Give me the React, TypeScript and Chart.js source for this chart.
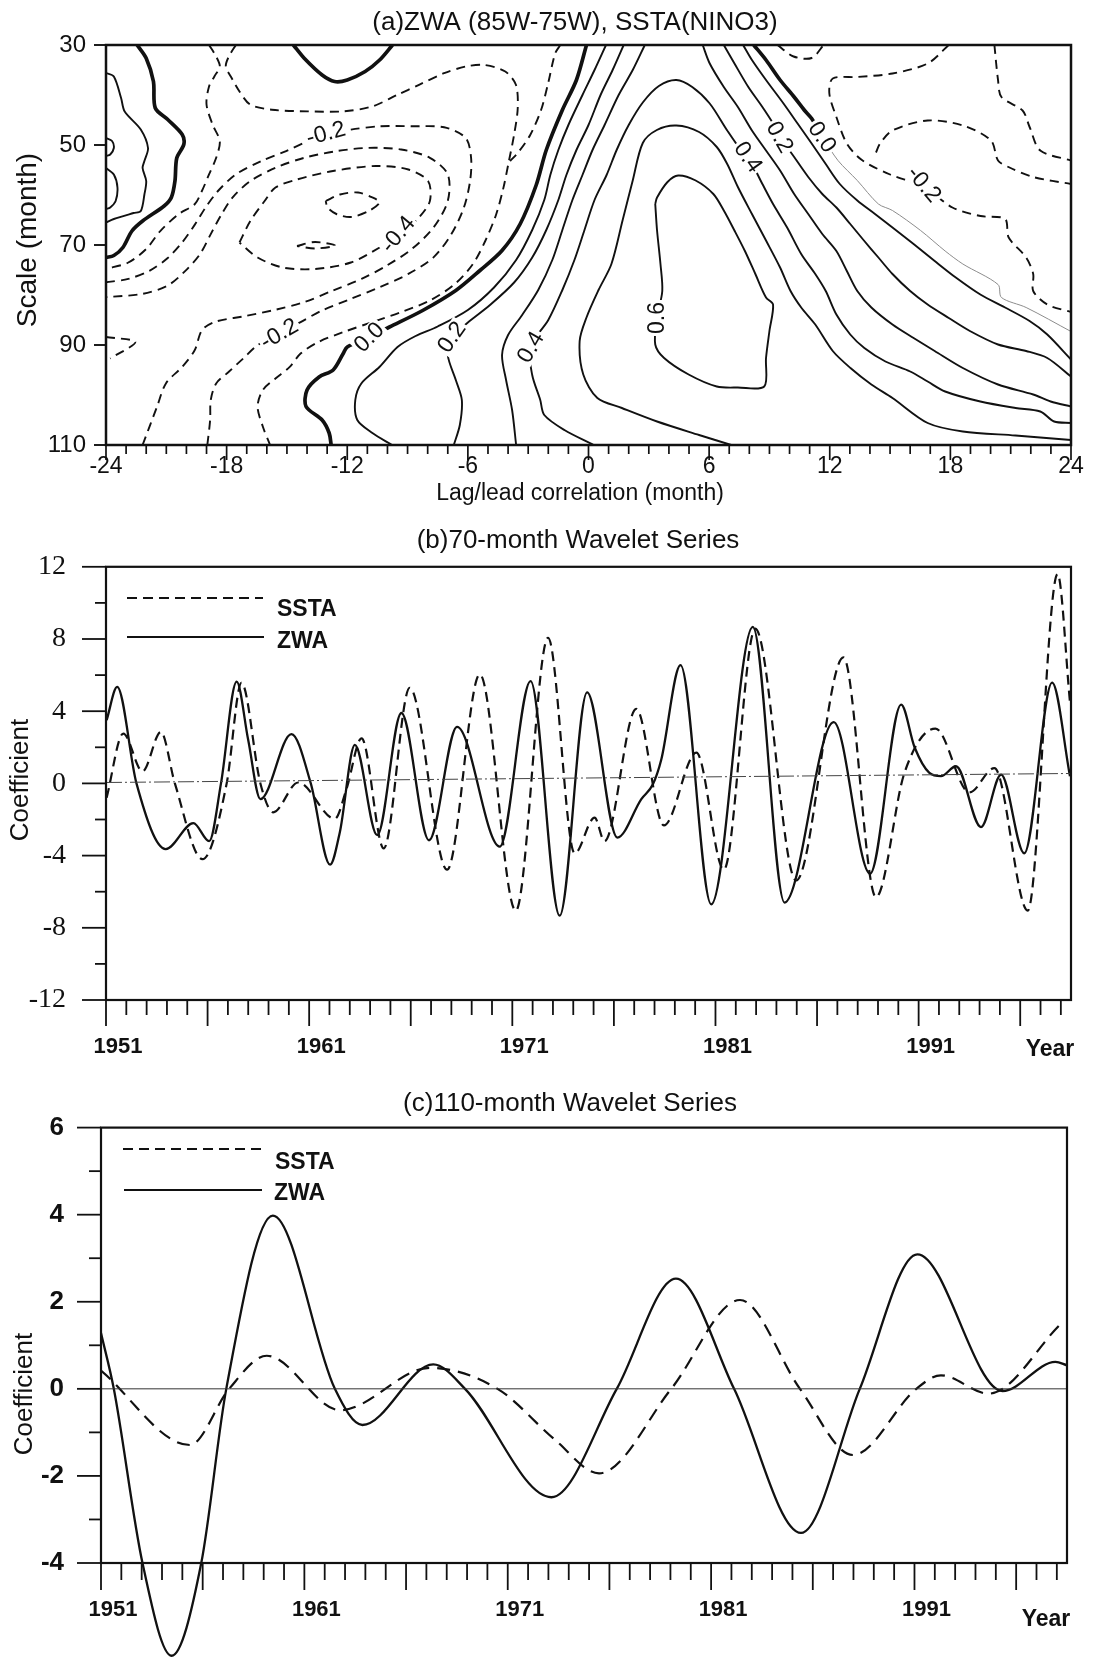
import React, { useEffect, useRef } from "react";
import { Chart, registerables } from "chart.js";

Chart.register(...registerables);

const SANS = "'Liberation Sans', Arial, Helvetica, sans-serif";
const SERIF = "'Liberation Serif', 'Times New Roman', Times, serif";
const INK = "#111111";
const W = 1093;

type Pt = [number, number];

// ================= Panel (a): lag/lead correlation contours =================
const lagTickValues = [-24, -18, -12, -6, 0, 6, 12, 18, 24];
const scaleTickValues = [30, 50, 70, 90, 110];

// 0.0 contours
const zeroUpperLeft: Pt[] = [[-22.45, 30], [-22.0, 32.65], [-21.64, 37.3], [-21.55, 42.6], [-20.93, 44.9], [-20.21, 47.9], [-20.13, 49.9], [-20.48, 52.6], [-20.57, 57.2], [-20.75, 60.5], [-21.11, 62.2], [-22.18, 65.2], [-22.71, 67.2], [-23.16, 70.5], [-23.61, 72.1], [-24, 72.5]];
const zeroTopPocket: Pt[] = [[-14.68, 30], [-14.14, 32.65], [-13.25, 36], [-12.63, 37.3], [-12.0, 37], [-11.11, 35.3], [-10.39, 33], [-9.75, 30]];
const zeroRidgeLeft: Pt[] = [[-0.1, 30], [-0.6, 37], [-1.3, 43], [-2.1, 51], [-2.6, 58], [-3.4, 65.8], [-4.3, 71.1], [-5.4, 75.1], [-6.6, 79.1], [-8.25, 83.1], [-9.9, 86.4], [-11.0, 88.6], [-12.0, 90.4], [-12.2, 91.7], [-12.7, 95], [-13.4, 96.4], [-14.0, 99], [-14.05, 102.3], [-13.25, 105], [-12.9, 107.6], [-12.8, 110]];
const zeroRidgeRight: Pt[] = [[8.22, 30], [8.83, 33], [9.53, 37], [10.23, 40.4], [10.75, 43.1], [11.1, 44.7], [11.63, 48.4]];
const zeroRidgeRightFaint: Pt[] = [[11.63, 48.4], [12.41, 53.1], [13.37, 57.1], [14.42, 61.8], [15.12, 63.1], [16.52, 67.1], [17.74, 71.2], [18.62, 73.8], [20.37, 77.9], [20.54, 80.5], [21.77, 82.5], [24, 87.3]];

// positive contours
const posCornerA: Pt[] = [[-24, 35.6], [-23.61, 36.3], [-23.25, 40.6], [-23.07, 43.3], [-22.27, 46.9], [-21.91, 50.6], [-22.09, 53.2], [-22.18, 54.6], [-22.0, 57.2], [-22.09, 59.9], [-22.27, 63.2], [-22.63, 63.6], [-23.61, 64.8], [-24, 65.5]];
const posCornerB: Pt[] = [[-24, 48.6], [-23.7, 49.2], [-23.61, 50.6], [-23.79, 51.9], [-24, 52.2]];
const posCornerC: Pt[] = [[-24, 54.6], [-23.61, 55.9], [-23.43, 58.5], [-23.52, 61.2], [-23.79, 62.5], [-24, 62.8]];
const pos01Left: Pt[] = [[0.87, 30], [0.3, 35], [-0.3, 40], [-1.0, 46], [-1.5, 51], [-1.9, 56], [-2.2, 61], [-2.8, 67], [-3.6, 73], [-4.7, 78.5], [-6.0, 83], [-7.5, 86.3], [-8.6, 88.2], [-9.5, 90.4], [-10.4, 94.4], [-11.3, 97.7], [-11.6, 101], [-11.5, 105], [-10.75, 107.6], [-9.77, 110]];
const pos02Left: Pt[] = [[1.75, 30], [1.2, 35], [0.6, 40], [0.0, 46], [-0.6, 51], [-1.1, 56], [-1.5, 61], [-2.1, 67], [-2.8, 72.5], [-3.7, 77.5], [-4.9, 82], [-6.0, 85.5], [-6.8, 88.4], [-7.0, 92], [-6.6, 97], [-6.3, 101], [-6.4, 106], [-6.7, 110]];
const pos03Left: Pt[] = [[2.8, 30], [2.2, 35], [1.5, 40], [0.8, 46], [0.2, 51], [-0.3, 56], [-0.8, 61], [-1.3, 67], [-1.8, 73], [-2.5, 79], [-3.3, 84], [-4.0, 88], [-4.3, 92], [-4.1, 97], [-3.8, 103], [-3.6, 110]];
const pos04Arch: Pt[] = [[0.26, 110], [-1.2, 107], [-2.2, 104], [-2.4, 101], [-2.8, 96], [-2.9, 90.4], [-2.0, 85], [-1.3, 79], [-0.7, 73], [-0.2, 67], [0.3, 61], [0.9, 56], [1.4, 51], [2.0, 46], [2.7, 41.5], [3.5, 38.2], [4.37, 37], [5.16, 38.4], [6.03, 41.7], [6.9, 47.1], [7.6, 51.1], [7.95, 52.4], [8.65, 57.8], [9.18, 61.8], [9.88, 66.5], [10.58, 71.8], [11.28, 75.8], [11.8, 79.2], [12.33, 83.9], [13.02, 87.9], [13.72, 90.6], [14.77, 93.3], [16.0, 95.3], [16.87, 97.3], [17.74, 99.3], [19.49, 101.3], [21.24, 102.6], [22.47, 103.3], [23.16, 105.3], [24, 105.6]];
const pos05Arch: Pt[] = [[7.1, 110], [5.5, 108], [3.41, 105.3], [1.66, 102.6], [0.44, 100.6], [-0.26, 95.9], [-0.44, 89.2], [-0.1, 84.5], [0.5, 79], [1.14, 73.8], [1.7, 65], [2.2, 57.1], [2.7, 49.6], [3.4, 47], [4.37, 46.1], [5.5, 47.4], [6.38, 50.4], [6.9, 53.8], [7.43, 58.4], [8.13, 63.8], [8.83, 69.1], [9.53, 74.5], [10.05, 79.2], [10.58, 82.5], [11.28, 85.9], [12.15, 91.2], [13.03, 94.6], [14.07, 97.9], [15.12, 100.6], [16.87, 105.6], [18.62, 107.3], [21.24, 108.1], [24, 109]];
const pos06Loop: Pt[] = [[3.32, 61.8], [3.41, 60.5], [3.93, 57.4], [4.46, 56.1], [5.33, 57.1], [6.21, 59.8], [6.73, 63.1], [7.26, 67.1], [7.78, 71.2], [8.3, 75.8], [8.83, 80.5], [9.18, 81.9], [9.0, 87.2], [8.83, 92.6], [8.74, 98.3], [7.43, 98.5], [6.38, 98.3], [4.98, 95.9], [3.76, 92.6], [3.32, 89.9], [3.41, 84.6], [3.67, 79.2], [3.58, 73.8], [3.41, 67.1], [3.32, 61.8]];
const pos03Right: Pt[] = [[5.68, 30], [6.03, 33.7], [6.73, 38.4], [7.43, 42.4], [8.13, 47.1], [8.83, 51.1], [9.53, 55.1], [10.23, 59.8], [10.93, 63.8], [11.63, 67.8], [12.33, 71.2], [12.85, 75.2], [13.37, 79.2], [14.07, 82.5], [15.12, 85.9], [16.17, 88.6], [17.22, 91.2], [18.62, 94.6], [20.37, 97.9], [22.12, 99.9], [22.99, 101.3], [24, 102.3]];
const pos02Right: Pt[] = [[6.73, 30], [7.26, 33.7], [7.95, 38.4], [8.65, 42.4], [9.18, 45.7], [9.53, 48.4], [10.23, 52.4], [10.93, 56.4], [11.63, 59.8], [12.33, 62.5], [13.02, 65.8], [13.72, 69.2], [14.42, 72.5], [15.12, 75.8], [16.0, 79.2], [16.87, 81.9], [17.92, 84.6], [18.97, 87.2], [20.37, 89.9], [21.77, 91.2], [22.82, 92.6], [24, 96.3]];
const pos01Right: Pt[] = [[7.69, 30], [8.13, 33], [8.83, 37], [9.7, 41.7], [10.4, 45.7], [11.1, 49.7], [11.8, 53.8], [12.5, 57.8], [13.37, 61.1], [14.25, 63.8], [15.12, 66.5], [16.17, 69.8], [17.22, 73.2], [18.27, 76.5], [19.49, 79.9], [20.72, 82.5], [21.94, 85.2], [22.82, 87.9], [24, 92.9]];

// negative contours
const negL0: Pt[] = [[-18.875, 30], [-18.52, 32.3], [-18.34, 34.3], [-18.61, 36.3], [-18.875, 38.3], [-19.0, 41.9], [-18.7, 45.9], [-18.34, 49.24], [-18.52, 52.56], [-18.875, 55.88], [-19.23, 59.2], [-19.59, 61.85], [-20.39, 63.84], [-21.29, 67.16], [-22.0, 70.8], [-22.89, 73.5], [-24, 74.8]];
const negL1: Pt[] = [[-17.54, 30], [-17.89, 32.3], [-18.04, 34.3], [-17.75, 36.6], [-17.36, 39.3], [-16.82, 41.94], [-15.75, 42.94], [-13.96, 43.27], [-12.18, 43.27], [-10.75, 42.28], [-9.5, 39.95], [-8.43, 37.96], [-7.18, 35.64], [-6.11, 34.31], [-5.21, 33.98], [-4.14, 35.31], [-3.61, 37.96], [-3.52, 42.61], [-3.7, 47.92], [-3.96, 53.23], [-4.23, 58.53], [-4.59, 63.84], [-5.13, 69.15], [-5.75, 73.8], [-6.64, 77.78], [-7.89, 81.1], [-9.32, 83.42], [-10.75, 85.41], [-12.18, 87.4], [-13.43, 89.39], [-14.32, 91.71], [-14.86, 94.37], [-15.57, 96.69], [-16.2, 99.01], [-16.46, 102.33], [-16.2, 106.31], [-15.84, 110]];
const negL1b: Pt[] = [[-1.4, 30], [-1.66, 31.7], [-2.01, 37.7], [-2.36, 43], [-2.9, 48], [-3.5, 51.5], [-3.9, 53.2]];
const negL2: Pt[] = [[-24, 77.45], [-22.89, 76.78], [-21.82, 75.12], [-20.93, 72.6], [-20.21, 69.48], [-19.59, 65.97], [-19.05, 62.52], [-18.43, 59.2], [-17.54, 55.88], [-16.29, 53.23], [-15.04, 51.23], [-13.96, 49.24], [-13.07, 47.92], [-11.82, 46.92], [-10.39, 46.26], [-8.79, 46.26], [-7.18, 46.46], [-6.11, 48.58], [-5.84, 52.56], [-5.89, 57.21], [-6.2, 62.52], [-6.82, 67.82], [-7.71, 72.47], [-8.96, 75.79], [-10.39, 78.44], [-11.82, 80.76], [-13.25, 83.09], [-14.32, 85.41], [-15.39, 87.73], [-16.46, 90.05], [-17.18, 92.71], [-17.89, 95.36], [-18.52, 97.68], [-18.79, 101.0], [-18.82, 104.98], [-18.96, 110]];
const negE: Pt[] = [[-22.18, 110], [-21.46, 102.33], [-21.02, 97.68], [-20.21, 94.37], [-19.59, 91.05], [-19.23, 87.07], [-18.61, 85.41], [-17.18, 84.28], [-15.57, 82.95], [-14.14, 81.43], [-12.71, 79.1], [-11.29, 76.78], [-10.04, 74.13], [-8.79, 70.81], [-7.71, 66.5], [-7.0, 61.19], [-7.0, 55.88], [-7.89, 52.56], [-9.32, 50.9], [-10.93, 50.57], [-12.54, 51.23], [-14.14, 52.56], [-15.57, 54.55], [-16.82, 57.21], [-17.71, 60.52], [-18.25, 63.84], [-18.79, 67.82], [-19.32, 71.8], [-20.04, 75.12], [-20.93, 78.11], [-22.18, 79.77], [-24, 80.43]];
const neg04Loop: Pt[] = [[-17.36, 69.5], [-16.82, 65.2], [-16.11, 61.2], [-15.57, 58.5], [-14.5, 56.9], [-12.71, 55.2], [-10.57, 54.2], [-8.96, 54.9], [-7.98, 57.2], [-7.89, 61.2], [-8.43, 64.5], [-9.14, 67.2], [-10.39, 70.5], [-11.82, 73.5], [-13.61, 74.8], [-15.21, 74.5], [-16.46, 72.5], [-17.36, 69.5]];
const neg05Loop: Pt[] = [[-13.07, 61.2], [-12.36, 59.9], [-11.46, 59.5], [-10.75, 60.5], [-10.39, 61.5], [-10.93, 63.2], [-11.82, 64.4], [-12.54, 63.8], [-12.98, 62.5], [-13.07, 61.2]];
const negFragment: Pt[] = [[-14.5, 70.2], [-13.6, 69.4], [-12.6, 70.1], [-13.6, 70.7], [-14.5, 70.2]];
const negLeftBump: Pt[] = [[-24, 88.4], [-22.54, 89.4], [-23.79, 92.7]];
const negTopPocket: Pt[] = [[9.4, 30], [10.2, 32.3], [11.1, 32.6], [11.7, 30]];
const negR1: Pt[] = [[17.92, 30], [16.87, 33.7], [15.12, 35.7], [13.37, 36.4], [12.15, 36.7], [11.98, 39.7], [12.33, 44.4], [12.85, 49.7], [13.6, 53], [15.0, 55.9], [16.7, 58.4], [18.1, 62.5], [19.5, 64.2], [20.72, 64.8], [20.9, 68.5], [21.77, 72.5], [22.12, 75.8], [22.12, 79.2], [22.82, 81.9], [24, 83.4]];
const negR2: Pt[] = [[14.3, 51.5], [14.5, 49.7], [15.12, 47.1], [16.87, 45.1], [18.62, 46.1], [20.02, 49.1], [20.37, 53.1], [20.89, 54.4], [22.12, 56.4], [24, 57.8]];
const negR3: Pt[] = [[20.19, 30], [20.37, 37], [20.54, 40.4], [21.59, 43.1], [21.94, 46.4], [22.47, 51.1], [24, 53.1]];

const contourLines: { level: number; pts: Pt[] }[] = [
  { level: 0, pts: zeroUpperLeft }, { level: 0, pts: zeroTopPocket }, { level: 0, pts: zeroRidgeLeft }, { level: 0, pts: zeroRidgeRight },
  { level: 0.1, pts: posCornerA }, { level: 0.2, pts: posCornerB }, { level: 0.2, pts: posCornerC },
  { level: 0.1, pts: pos01Left }, { level: 0.2, pts: pos02Left }, { level: 0.3, pts: pos03Left },
  { level: 0.4, pts: pos04Arch }, { level: 0.5, pts: pos05Arch }, { level: 0.6, pts: pos06Loop },
  { level: 0.3, pts: pos03Right }, { level: 0.2, pts: pos02Right }, { level: 0.1, pts: pos01Right },
  { level: -0.1, pts: negL0 }, { level: -0.1, pts: negL1 }, { level: -0.1, pts: negL1b }, { level: -0.2, pts: negL2 },
  { level: -0.3, pts: negE }, { level: -0.4, pts: neg04Loop }, { level: -0.5, pts: neg05Loop }, { level: -0.5, pts: negFragment },
  { level: -0.2, pts: negLeftBump }, { level: -0.1, pts: negTopPocket }, { level: -0.1, pts: negR1 }, { level: -0.2, pts: negR2 }, { level: -0.1, pts: negR3 },
];

// contour labels: text, lag, scale, rotation (deg)
const contourLabels: [string, number, number, number][] = [
  ["-0.2", -13.07, 47.6, -15], ["-0.4", -9.5, 67.8, -50], ["-0.2", -15.39, 87.7, -30],
  ["0.0", -10.93, 88.4, -45], ["0.2", -6.82, 88.4, -55], ["0.4", -2.89, 90.4, -60],
  ["0.6", 3.41, 84.6, -90], ["0.4", 7.95, 52.4, 55], ["0.2", 9.53, 48.4, 60],
  ["0.0", 11.63, 48.4, 55], ["-0.2", 16.7, 57.8, 50],
];

// ================= Panel (b): 70-month wavelet series =================
const bYearTicks = [1951, 1961, 1971, 1981, 1991];
const bCoefTicks = [-12, -8, -4, 0, 4, 8, 12];
const bYearsZWA = [1951.03, 1951.55, 1952.5, 1953.94, 1955.3, 1956.08, 1956.66, 1957.43, 1958.0, 1958.6, 1960.13, 1961.08, 1962.03, 1962.51, 1963.25, 1964.35, 1965.54, 1966.9, 1968.28, 1970.38, 1971.9, 1973.33, 1974.68, 1976.17, 1977.35, 1977.92, 1978.33, 1979.28, 1980.79, 1982.84, 1984.4, 1986.82, 1988.61, 1990.14, 1990.8, 1991.53, 1992.1, 1992.84, 1994.07, 1995.06, 1996.2, 1997.57, 1998.45];
const bZWA = [3.5, 5.35, 0, -3.64, -2.2, -3.2, 0, 5.64, 2.4, -0.87, 2.73, 0, -4.5, -2.7, 2.13, -2.87, 3.9, -3.15, 3.13, -3.5, 5.67, -7.33, 5.04, -3.0, -0.87, -0.05, 1.31, 6.55, -6.7, 8.67, -6.6, 3.4, -5.0, 4.36, 2.0, 0.58, 0.4, 0.95, -2.42, 0.49, -3.87, 5.58, 0.4];
const bYearsSSTA = [1951.03, 1951.85, 1952.8, 1953.7, 1954.39, 1955.75, 1956.94, 1957.67, 1958.6, 1959.23, 1960.46, 1962.26, 1962.84, 1963.58, 1964.67, 1965.95, 1967.79, 1969.4, 1971.17, 1972.76, 1974.07, 1975.05, 1975.54, 1977.1, 1978.46, 1980.06, 1981.41, 1982.96, 1984.97, 1987.3, 1988.9, 1990.3, 1991.83, 1993.5, 1994.73, 1996.37, 1997.84, 1998.45];
const bSSTA = [-0.8, 2.76, 0.67, 2.85, 0, -4.2, 0, 5.58, 0, -1.6, 0.05, -1.96, -0.3, 2.5, -3.6, 5.3, -4.78, 6.04, -7.05, 8.07, -3.87, -1.9, -3.2, 4.13, -2.33, 1.7, -4.78, 8.58, -5.38, 6.98, -6.3, 0.58, 3.04, -0.5, 0.85, -7.05, 11.6, 4.5];
const bTrendYears = [1951, 1998.5];
const bTrend = [0.05, 0.55];

// ================= Panel (c): 110-month wavelet series =================
const cYearTicks = [1951, 1961, 1971, 1981, 1991];
const cCoefTicks = [-4, -2, 0, 2, 4, 6];
const cYearsZWA = [1951.0, 1951.63, 1953.04, 1954.47, 1955.93, 1957.16, 1959.45, 1962.5, 1963.85, 1967.34, 1968.9, 1973.15, 1976.36, 1979.27, 1982.13, 1985.42, 1988.31, 1991.14, 1995.33, 1997.93, 1998.5];
const cZWA = [1.28, 0, -4, -6.13, -4, 0, 3.98, 0, -0.83, 0.56, 0, -2.49, 0, 2.53, 0, -3.31, 0, 3.09, -0.05, 0.62, 0.54];
const cYearsSSTA = [1951.0, 1955.37, 1957.3, 1959.15, 1962.76, 1967.16, 1970.5, 1973.3, 1975.49, 1979.04, 1982.42, 1985.37, 1987.97, 1991.09, 1992.3, 1994.64, 1998.19];
const cSSTA = [0.42, -1.29, 0, 0.76, -0.49, 0.48, 0, -1.16, -1.94, 0, 2.04, 0, -1.52, 0, 0.31, -0.11, 1.49];
const cZeroYears = [1951, 1998.5];
const cZero = [0, 0];

// ================= helpers =================
const zip = (xs: number[], ys: number[]) => xs.map((x, i) => ({ x, y: ys[i] }));

function drawText(ctx: CanvasRenderingContext2D, s: string, x: number, y: number, font: string, align: CanvasTextAlign = "center", rot = 0) {
  ctx.save();
  ctx.translate(x, y);
  if (rot) ctx.rotate((rot * Math.PI) / 180);
  ctx.font = font;
  ctx.fillStyle = INK;
  ctx.textAlign = align;
  ctx.textBaseline = "middle";
  ctx.fillText(s, 0, 0);
  ctx.restore();
}

function seg(ctx: CanvasRenderingContext2D, x1: number, y1: number, x2: number, y2: number, w = 1.6, dash: number[] = []) {
  ctx.save();
  ctx.beginPath();
  ctx.setLineDash(dash);
  ctx.lineWidth = w;
  ctx.strokeStyle = INK;
  ctx.moveTo(x1, y1);
  ctx.lineTo(x2, y2);
  ctx.stroke();
  ctx.restore();
}

function frame(ctx: CanvasRenderingContext2D, area: any, w: number) {
  ctx.save();
  ctx.lineWidth = w;
  ctx.strokeStyle = INK;
  ctx.setLineDash([]);
  ctx.strokeRect(area.left, area.top, area.right - area.left, area.bottom - area.top);
  ctx.restore();
}

const noGrid = { display: false, drawTicks: false, tickLength: 0 };

function baseOptions(padTop: number, padRight: number) {
  return {
    responsive: false,
    animation: false as const,
    devicePixelRatio: 1,
    events: [] as any[],
    layout: { padding: { top: padTop, right: padRight, left: 0, bottom: 0 } },
    plugins: { legend: { display: false }, tooltip: { enabled: false }, title: { display: false } },
  };
}

// ================= builders =================
function buildA(top: number, height: number) {
  const datasets: any[] = contourLines.map((c) => ({
    data: c.pts.map((p) => ({ x: p[0], y: p[1] })),
    showLine: true,
    pointRadius: 0,
    borderColor: INK,
    borderWidth: c.level === 0 ? 3.7 : 1.9,
    borderDash: c.level < 0 ? [9, 6] : [],
    tension: 0.3,
    fill: false,
  }));
  datasets.push({
    data: zeroRidgeRightFaint.map((p) => ({ x: p[0], y: p[1] })),
    showLine: true,
    pointRadius: 0,
    borderColor: "#8c8c8c",
    borderWidth: 1,
    tension: 0.3,
    fill: false,
  });
  const bottom = 445 - top;
  const decor = {
    id: "decorA",
    afterDatasetsDraw(chart: any) {
      const ctx = chart.ctx as CanvasRenderingContext2D;
      const a = chart.chartArea;
      const xs = chart.scales.x;
      const ys = chart.scales.y;
      // contour labels with white backing
      for (const [t, lag, sc, rot] of contourLabels) {
        const x = xs.getPixelForValue(lag);
        const y = ys.getPixelForValue(sc);
        ctx.save();
        ctx.translate(x, y);
        ctx.rotate((rot * Math.PI) / 180);
        ctx.font = `23px ${SANS}`;
        const w = ctx.measureText(t).width;
        ctx.fillStyle = "#fff";
        ctx.fillRect(-w / 2 - 2, -10, w + 4, 20);
        ctx.fillStyle = INK;
        ctx.textAlign = "center";
        ctx.textBaseline = "middle";
        ctx.fillText(t, 0, 1);
        ctx.restore();
      }
      frame(ctx, a, 2.5);
      for (let m = -24; m <= 24; m++) {
        const x = xs.getPixelForValue(m);
        seg(ctx, x, a.bottom, x, a.bottom + (m % 6 === 0 ? 15 : 9), 1.7);
      }
      for (const v of scaleTickValues) {
        const y = ys.getPixelForValue(v);
        seg(ctx, a.left - 12, y, a.left, y, 1.9);
      }
      drawText(ctx, "(a)ZWA (85W-75W), SSTA(NINO3)", 575, 23 - top, `26px ${SANS}`);
      drawText(ctx, "Lag/lead correlation (month)", 580, 494 - top, `23px ${SANS}`);
      drawText(ctx, "Scale (month)", 28, 240 - top, `28px ${SANS}`, "center", -90);
    },
  };
  return {
    type: "scatter",
    data: { datasets },
    options: {
      ...baseOptions(45 - top, W - 1071),
      scales: {
        x: {
          type: "linear", min: -24, max: 24, grid: noGrid, border: { display: false },
          afterBuildTicks: (s: any) => { s.ticks = lagTickValues.map((v) => ({ value: v })); },
          afterFit: (s: any) => { s.height = height - bottom; s.paddingLeft = 0; s.paddingRight = 0; },
          ticks: { font: { family: SANS, size: 23 }, color: INK, padding: 8, maxRotation: 0, autoSkip: false, callback: (v: any) => String(v) },
        },
        y: {
          type: "linear", min: 30, max: 110, reverse: true, grid: noGrid, border: { display: false },
          afterBuildTicks: (s: any) => { s.ticks = scaleTickValues.map((v) => ({ value: v })); },
          afterFit: (s: any) => { s.width = 106; },
          ticks: { font: { family: SANS, size: 24 }, color: INK, padding: 20, autoSkip: false, callback: (v: any) => String(v) },
        },
      },
    },
    plugins: [decor],
  };
}

function buildB(top: number, height: number) {
  const bottom = 1000 - top;
  const datasets: any[] = [
    { data: zip(bTrendYears, bTrend), borderColor: "#444", borderWidth: 1, borderDash: [16, 3, 2, 3], pointRadius: 0, tension: 0, fill: false },
    { data: zip(bYearsSSTA, bSSTA), borderColor: INK, borderWidth: 2.2, borderDash: [10, 6], pointRadius: 0, cubicInterpolationMode: "monotone", fill: false },
    { data: zip(bYearsZWA, bZWA), borderColor: INK, borderWidth: 2.3, pointRadius: 0, cubicInterpolationMode: "monotone", fill: false },
  ];
  const decor = {
    id: "decorB",
    afterDatasetsDraw(chart: any) {
      const ctx = chart.ctx as CanvasRenderingContext2D;
      const a = chart.chartArea;
      const xs = chart.scales.x;
      const ys = chart.scales.y;
      frame(ctx, a, 2.2);
      for (let yr = 1951; yr <= 1998; yr++) {
        const x = xs.getPixelForValue(yr);
        seg(ctx, x, a.bottom, x, a.bottom + ((yr - 1951) % 5 === 0 ? 26 : 15), 1.8);
      }
      for (let v = -12; v <= 12; v += 2) {
        const y = ys.getPixelForValue(v);
        seg(ctx, a.left - (v % 4 === 0 ? 24 : 11), y, a.left, y, 1.8);
      }
      drawText(ctx, "(b)70-month Wavelet Series", 578, 541 - top, `26px ${SANS}`);
      drawText(ctx, "Coefficient", 21, 780 - top, `26px ${SANS}`, "center", -90);
      drawText(ctx, "Year", 1050, 1050 - top, `bold 23px ${SANS}`);
      // legend
      seg(ctx, 127, 598 - top, 263, 598 - top, 2.1, [10, 6]);
      drawText(ctx, "SSTA", 277, 610 - top, `bold 23px ${SANS}`, "left");
      seg(ctx, 127, 637 - top, 264, 637 - top, 2.2);
      drawText(ctx, "ZWA", 277, 642 - top, `bold 23px ${SANS}`, "left");
    },
  };
  return {
    type: "line",
    data: { datasets },
    options: {
      ...baseOptions(559 - top, W - 1071),
      scales: {
        x: {
          type: "linear", min: 1951, max: 1998.5, grid: noGrid, border: { display: false },
          afterBuildTicks: (s: any) => { s.ticks = bYearTicks.map((v) => ({ value: v })); },
          afterFit: (s: any) => { s.height = height - bottom; s.paddingLeft = 0; s.paddingRight = 0; },
          ticks: { font: { family: SANS, size: 22, weight: "bold" }, color: INK, padding: 34, labelOffset: 12, maxRotation: 0, autoSkip: false, callback: (v: any) => String(v) },
        },
        y: {
          type: "linear", min: -12, max: 12, grid: noGrid, border: { display: false },
          afterBuildTicks: (s: any) => { s.ticks = bCoefTicks.map((v) => ({ value: v })); },
          afterFit: (s: any) => { s.width = 106; },
          ticks: { font: { family: SERIF, size: 28 }, color: INK, padding: 40, autoSkip: false, callback: (v: any) => String(v) },
        },
      },
    },
    plugins: [decor],
  };
}

function buildC(top: number, height: number) {
  const bottom = 1563 - top;
  const datasets: any[] = [
    { data: zip(cZeroYears, cZero), borderColor: "#333", borderWidth: 1, pointRadius: 0, tension: 0, fill: false },
    { data: zip(cYearsSSTA, cSSTA), borderColor: INK, borderWidth: 2.2, borderDash: [13, 8], pointRadius: 0, cubicInterpolationMode: "monotone", fill: false },
    { data: zip(cYearsZWA, cZWA), borderColor: INK, borderWidth: 2.3, pointRadius: 0, cubicInterpolationMode: "monotone", fill: false, clip: false, capBezierPoints: false },
  ];
  const decor = {
    id: "decorC",
    afterDatasetsDraw(chart: any) {
      const ctx = chart.ctx as CanvasRenderingContext2D;
      const a = chart.chartArea;
      const xs = chart.scales.x;
      const ys = chart.scales.y;
      frame(ctx, a, 2.2);
      for (let yr = 1951; yr <= 1998; yr++) {
        const x = xs.getPixelForValue(yr);
        seg(ctx, x, a.bottom, x, a.bottom + ((yr - 1951) % 5 === 0 ? 27 : 17), 1.8);
      }
      for (let v = -4; v <= 6; v += 1) {
        const y = ys.getPixelForValue(v);
        seg(ctx, a.left - (v % 2 === 0 ? 24 : 12), y, a.left, y, 1.8);
      }
      drawText(ctx, "(c)110-month Wavelet Series", 570, 1104 - top, `26px ${SANS}`);
      drawText(ctx, "Coefficient", 25, 1394 - top, `26px ${SANS}`, "center", -90);
      drawText(ctx, "Year", 1046, 1620 - top, `bold 23px ${SANS}`);
      // legend
      seg(ctx, 123, 1149 - top, 261, 1149 - top, 2.1, [10, 6]);
      drawText(ctx, "SSTA", 275, 1163 - top, `bold 23px ${SANS}`, "left");
      seg(ctx, 124, 1190 - top, 262, 1190 - top, 2.2);
      drawText(ctx, "ZWA", 274, 1194 - top, `bold 23px ${SANS}`, "left");
    },
  };
  return {
    type: "line",
    data: { datasets },
    options: {
      ...baseOptions(1124 - top, W - 1067),
      scales: {
        x: {
          type: "linear", min: 1951, max: 1998.5, grid: noGrid, border: { display: false },
          afterBuildTicks: (s: any) => { s.ticks = cYearTicks.map((v) => ({ value: v })); },
          afterFit: (s: any) => { s.height = height - bottom; s.paddingLeft = 0; s.paddingRight = 0; },
          ticks: { font: { family: SANS, size: 22, weight: "bold" }, color: INK, padding: 34, labelOffset: 12, maxRotation: 0, autoSkip: false, callback: (v: any) => String(v) },
        },
        y: {
          type: "linear", min: -4, max: 6, grid: noGrid, border: { display: false },
          afterBuildTicks: (s: any) => { s.ticks = cCoefTicks.map((v) => ({ value: v })); },
          afterFit: (s: any) => { s.width = 101; },
          ticks: { font: { family: SANS, size: 26, weight: "bold" }, color: INK, padding: 37, autoSkip: false, callback: (v: any) => String(v) },
        },
      },
    },
    plugins: [decor],
  };
}

function ChartPanel({ top, height, build }: { top: number; height: number; build: (top: number, height: number) => any }) {
  const ref = useRef<HTMLCanvasElement | null>(null);
  useEffect(() => {
    if (!ref.current) return;
    const chart = new Chart(ref.current, build(top, height));
    return () => chart.destroy();
  }, [top, height, build]);
  return (
    <canvas
      ref={ref}
      width={W}
      height={height}
      style={{ position: "absolute", left: 0, top, width: W, height, display: "block" }}
    />
  );
}

export default function App() {
  return (
    <div style={{ position: "absolute", left: 0, top: 0, width: W, height: 1662, background: "#fff", overflow: "hidden" }}>
      <ChartPanel top={0} height={510} build={buildA} />
      <ChartPanel top={510} height={565} build={buildB} />
      <ChartPanel top={1075} height={587} build={buildC} />
    </div>
  );
}
